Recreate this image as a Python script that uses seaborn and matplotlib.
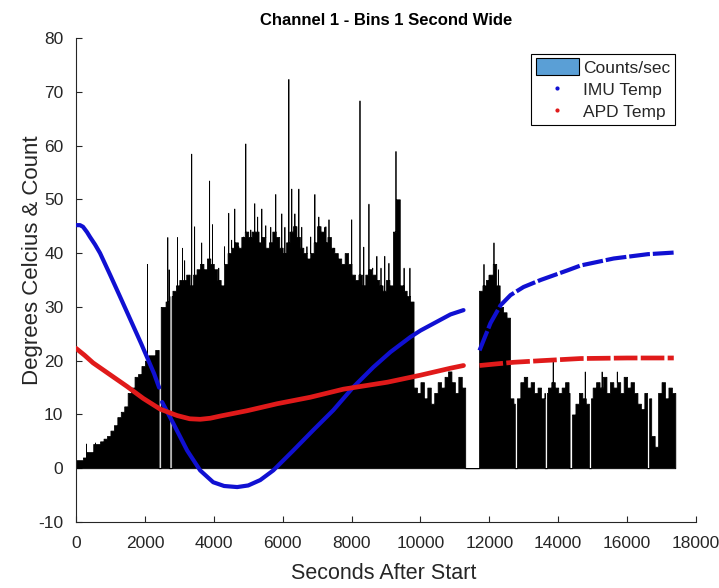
import numpy as np
import pandas as pd
import matplotlib
matplotlib.use("Agg")
import matplotlib.pyplot as plt
from matplotlib.patches import Patch
from matplotlib.lines import Line2D
import seaborn as sns

# ---------------- data ----------------
# counts per second, base level for each 100-second block (0 .. 17400 s)
base_counts = [
    1.5, 1.5, 2, 3, 3, 4.5, 4.5, 5, 5.5, 6,
    7, 8, 9.5, 10.5, 11.5, 14, 15, 17, 17.5, 19,
    20, 21, 21, 22, 30, 30, 31, 32, 33, 34,
    35, 35, 36, 34, 36, 37, 38, 37, 39, 38,
    37, 35, 34, 38, 40, 41, 42, 41, 43, 44,
    43, 44, 44, 42, 43, 41, 42, 44, 43, 41,
    40, 42, 44, 45, 43, 41, 40, 39, 40, 42,
    45, 44, 42, 43, 41, 40, 39, 38, 40, 38,
    36, 35, 36, 34, 36, 37, 36, 35, 34, 33,
    35, 34, 44, 50, 34, 33, 32, 31, 15, 14,
    16, 13, 15, 12, 14, 16, 15, 17, 18, 16,
    14, 17, 15, 0, 0, 0, 0, 33, 34, 35,
    36, 38, 34, 30, 29, 28, 13, 12, 13, 16,
    17, 15, 16, 14, 15, 13, 14, 15, 16, 15,
    14, 15, 16, 14, 10, 12, 14, 13, 12, 13,
    15, 16, 15, 17, 14, 16, 15, 16, 14, 17,
    15, 16, 14, 12, 11, 14, 13, 6, 4, 14,
    16, 13, 15, 14,
]
# single-second spikes: time (s) and count
spike_t = [290, 550, 2060, 2650, 2690, 2935, 3080, 3140, 3345, 3430, 3635, 3865, 3950,
           4130, 4300, 4420, 4505, 4595, 4710, 4855, 4915, 5060, 5175, 5260, 5380,
           5495, 5640, 5785, 5960, 6050, 6165, 6250, 6340, 6455, 6540, 6690, 6800,
           6920, 7035, 7210, 7240, 7330, 7470, 7700, 7990, 8230, 8340, 8490, 8600,
           8720, 8840, 8950, 9070, 9275, 9510, 9680,
           11830, 11980, 12120, 12250, 13840, 14770, 15260, 15700]
spike_h = [4.6, 4.8, 38, 43, 37, 43, 41, 38.7, 58.5, 45, 42, 53.5, 45.4,
           37.3, 41.3, 47.5, 42.5, 48.3, 41.3, 43.1, 60.4, 44.4, 49.3, 46.8, 48.3,
           45.2, 44.9, 51, 47.4, 44.9, 72.4, 52, 47.4, 52, 44.9, 41.3, 43.1,
           51, 46.8, 44.9, 45, 46.3, 40.3, 38.2, 46.3, 68.4, 41.2, 49.2, 37.3,
           39.5, 37.3, 39.5, 38.2, 59, 37.3, 37.3,
           38, 36, 42, 37, 20, 18, 18, 18]
# empty seconds (start, end)
gap_start = [2400, 2715, 12740, 13610, 14330, 14890, 16580]
gap_end = [2460, 2775, 12800, 13670, 14400, 14950, 16640]

# IMU temperature
imu_t = [0, 116, 203, 320, 407, 552, 698, 988, 1279, 1483, 1890, 2267, 2413,
         2500, 2820, 3227, 3605, 3983, 4300, 4680, 5000, 5349, 5727, 6308, 6890, 7471,
         8052, 8634, 9128, 9709, 10000, 10581, 10872, 11250,
         11715, 12035, 12326, 12616, 12994, 13488, 14273, 14651, 15611, 16599, 17355]
imu_v = [45.2, 45.2, 44.9, 43.9, 43.0, 41.6, 40.0, 36.0, 31.9, 29.0, 23.2, 17.6, 15.0,
         12.3, 8.4, 3.3, -0.4, -2.6, -3.3, -3.5, -3.2, -2.2, -0.4, 3.3, 7.1, 10.8,
         15.1, 18.8, 21.6, 24.4, 25.6, 27.6, 28.6, 29.4,
         21.9, 27.0, 30.3, 32.2, 33.7, 35.0, 36.8, 37.7, 39.0, 39.8, 40.1]
imu_seg = [0] * 13 + [1] * 21 + [2] * 11

# APD temperature
apd_t = [0, 250, 494, 988, 1483, 1948, 2442, 2936, 3300, 3605, 3900, 4186, 4971,
         5843, 6802, 7762, 9041, 10000, 10872, 11250,
         11715, 12200, 12703, 13500, 14651, 16000, 17355]
apd_v = [22.3, 21.0, 19.6, 17.4, 15.2, 13.0, 11.0, 9.8, 9.2, 9.1, 9.3, 9.7, 10.7,
         12.0, 13.2, 14.7, 16.0, 17.3, 18.6, 19.1,
         19.1, 19.4, 19.7, 20.0, 20.4, 20.5, 20.5]
apd_seg = [0] * 20 + [1] * 7

# ---------------- build 1-second counts ----------------
counts = np.repeat(np.array(base_counts, dtype=float), 100)
for t, h in zip(spike_t, spike_h):
    counts[t] = h
for a, b in zip(gap_start, gap_end):
    counts[a:b] = 0
hist_df = pd.DataFrame({"sec": np.arange(len(counts)) + 0.5, "cnt": counts})

# ---------------- plotting ----------------
sns.set_style("ticks")
plt.rcParams["font.family"] = ["Liberation Sans", "DejaVu Sans"]
plt.rcParams["axes.unicode_minus"] = False
grey = "#262626"

fig = plt.figure(figsize=(7.19, 5.88), dpi=100)
ax = fig.add_axes([0.1057, 0.1122, 0.8623, 0.8232])

sns.histplot(data=hist_df, x="sec", weights="cnt", binwidth=1, binrange=(0, len(counts)),
             element="step", fill=True, color="black",
             linewidth=0.55, alpha=1.0, ax=ax, zorder=2)

imu_df = pd.DataFrame({"t": imu_t, "v": imu_v, "seg": imu_seg})
apd_df = pd.DataFrame({"t": apd_t, "v": apd_v, "seg": apd_seg})

for seg_id, sub in imu_df.groupby("seg"):
    ls = (0, (5, 0.7)) if seg_id == 2 else "-"
    sns.lineplot(data=sub, x="t", y="v", color="#1010d2", linewidth=3.0,
                 linestyle=ls, ax=ax, zorder=3, estimator=None, sort=False)
for seg_id, sub in apd_df.groupby("seg"):
    ls = (0, (5, 0.7)) if seg_id == 1 else "-"
    sns.lineplot(data=sub, x="t", y="v", color="#e01a1a", linewidth=3.4,
                 linestyle=ls, ax=ax, zorder=4, estimator=None, sort=False)

ax.set_xlim(0, 18000)
ax.set_ylim(-10, 80)
ax.set_xticks(np.arange(0, 18001, 2000))
ax.set_yticks(np.arange(-10, 81, 10))
ax.tick_params(direction="in", length=4, width=0.8, colors=grey, labelsize=12.5)
ax.tick_params(axis="x", pad=10)
ax.tick_params(axis="y", pad=9)
for s in ["top", "right"]:
    ax.spines[s].set_visible(False)
for s in ["left", "bottom"]:
    ax.spines[s].set_color(grey)
    ax.spines[s].set_linewidth(0.8)

ax.set_xlabel("Seconds After Start", fontsize=15.5, color=grey)
ax.set_ylabel("Degrees Celcius & Count", fontsize=16, color=grey)
ax.xaxis.set_label_coords(0.497, -0.085)
ax.yaxis.set_label_coords(-0.053, 0.541)
ax.set_title("Channel 1 - Bins 1 Second Wide", fontsize=12, fontweight="bold",
             color="black", pad=9)

handles = [
    Patch(facecolor="#5a9fd6", edgecolor="black", linewidth=0.8),
    Line2D([], [], linestyle="none", marker=".", markersize=4, color="#1010d2"),
    Line2D([], [], linestyle="none", marker=".", markersize=4, color="#e01a1a"),
]
leg = ax.legend(handles, ["Counts/sec", "IMU Temp", "APD Temp"], loc="upper right",
                bbox_to_anchor=(0.966, 0.967), fontsize=12.5, frameon=True,
                fancybox=False, framealpha=1, edgecolor="black",
                handlelength=2.5, handleheight=1.1, handletextpad=0.25,
                borderpad=0.25, labelspacing=0.3, borderaxespad=0)
leg.get_frame().set_linewidth(0.8)

fig.savefig("out.png", dpi=100)
